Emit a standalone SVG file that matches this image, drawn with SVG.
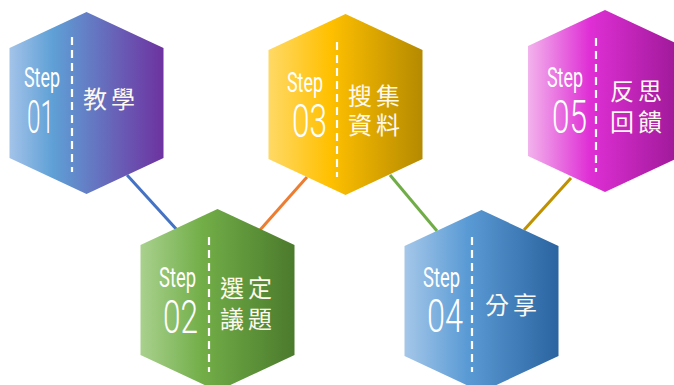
<svg xmlns="http://www.w3.org/2000/svg" width="674" height="385" viewBox="0 0 674 385">
<style>
.dash{stroke:#fff;stroke-width:2.2;stroke-dasharray:8 5;fill:none}
.lbl{font-family:Roboto,"Liberation Sans",sans-serif;fill:#fff}
.step{font-weight:400;font-size:28px}
.num{font-weight:300;font-size:46px}
.cjk{font-family:"Noto Sans CJK TC","Noto Sans CJK SC",sans-serif;font-weight:400;font-size:24px;fill:#fdf8ee;letter-spacing:4px}
.conn{stroke-width:3;fill:none}
</style>
<defs>
<linearGradient id="g1" x1="0" x2="1" y1="0" y2="0">
<stop offset="0" stop-color="#a3c3e9"/><stop offset="0.28" stop-color="#5fa0d6"/><stop offset="1" stop-color="#6e32a0"/>
</linearGradient>
<linearGradient id="g2" x1="0" x2="1" y1="0" y2="0">
<stop offset="0" stop-color="#a9d18e"/><stop offset="0.4" stop-color="#72ae48"/><stop offset="1" stop-color="#4b7a2c"/>
</linearGradient>
<linearGradient id="g3" x1="0" x2="1" y1="0" y2="0">
<stop offset="0" stop-color="#ffd966"/><stop offset="0.4" stop-color="#ffc000"/><stop offset="1" stop-color="#b58a00"/>
</linearGradient>
<linearGradient id="g4" x1="0" x2="1" y1="0" y2="0">
<stop offset="0" stop-color="#a5c7e9"/><stop offset="0.4" stop-color="#5b9bd5"/><stop offset="1" stop-color="#2b64a0"/>
</linearGradient>
<linearGradient id="g5" x1="0" x2="1" y1="0" y2="0">
<stop offset="0" stop-color="#f2b3ec"/><stop offset="0.4" stop-color="#df2fd5"/><stop offset="1" stop-color="#9c1896"/>
</linearGradient>
</defs>
<g id="connectors">
<line class="conn" x1="127" y1="175" x2="178" y2="231" stroke="#4472c4"/>
<line class="conn" x1="307" y1="177" x2="260" y2="230" stroke="#ed7d31"/>
<line class="conn" x1="390" y1="175" x2="437" y2="231" stroke="#70ad47"/>
<line class="conn" x1="571" y1="178" x2="524" y2="230" stroke="#bf9000"/>
</g>
<g id="step1">
<polygon points="86.5,12 163.5,48 163.5,158 86.5,194 9.5,158 9.5,48" fill="url(#g1)"/>
<line class="dash" x1="72" y1="37" x2="72" y2="172"/>
<text class="lbl"><tspan class="step" x="24" y="87" textLength="36" lengthAdjust="spacingAndGlyphs">Step</tspan><tspan class="num" x="27" y="133" textLength="27" lengthAdjust="spacingAndGlyphs">01</tspan></text>
<text class="cjk" x="83" y="108">教學</text>
</g>
<g id="step2">
<polygon points="217.5,209 294.5,245 294.5,355 217.5,391 140.5,355 140.5,245" fill="url(#g2)"/>
<line class="dash" x1="209" y1="237" x2="209" y2="372"/>
<text class="lbl"><tspan class="step" x="159" y="287" textLength="37" lengthAdjust="spacingAndGlyphs">Step</tspan><tspan class="num" x="163" y="333" textLength="35" lengthAdjust="spacingAndGlyphs">02</tspan></text>
<text class="cjk"><tspan x="220" y="297">選定</tspan><tspan x="220" y="328">議題</tspan></text>
</g>
<g id="step3">
<polygon points="345.5,14 422.5,50 422.5,159 345.5,195 268.5,159 268.5,50" fill="url(#g3)"/>
<line class="dash" x1="337" y1="42" x2="337" y2="177"/>
<text class="lbl"><tspan class="step" x="287" y="92" textLength="36" lengthAdjust="spacingAndGlyphs">Step</tspan><tspan class="num" x="292" y="137" textLength="35" lengthAdjust="spacingAndGlyphs">03</tspan></text>
<text class="cjk"><tspan x="348" y="105">搜集</tspan><tspan x="348" y="134">資料</tspan></text>
</g>
<g id="step4">
<polygon points="481.5,210 558.5,246 558.5,356 481.5,392 404.5,356 404.5,246" fill="url(#g4)"/>
<line class="dash" x1="472" y1="237" x2="472" y2="372"/>
<text class="lbl"><tspan class="step" x="423" y="287" textLength="37" lengthAdjust="spacingAndGlyphs">Step</tspan><tspan class="num" x="427" y="332" textLength="36" lengthAdjust="spacingAndGlyphs">04</tspan></text>
<text class="cjk" x="485" y="314">分享</text>
</g>
<g id="step5">
<polygon points="605,10 682,46 682,156 605,192 528,156 528,46" fill="url(#g5)"/>
<line class="dash" x1="596" y1="38" x2="596" y2="172"/>
<text class="lbl"><tspan class="step" x="547" y="87" textLength="36" lengthAdjust="spacingAndGlyphs">Step</tspan><tspan class="num" x="552" y="133" textLength="35" lengthAdjust="spacingAndGlyphs">05</tspan></text>
<text class="cjk"><tspan x="610" y="100">反思</tspan><tspan x="610" y="131">回饋</tspan></text>
</g>
</svg>
